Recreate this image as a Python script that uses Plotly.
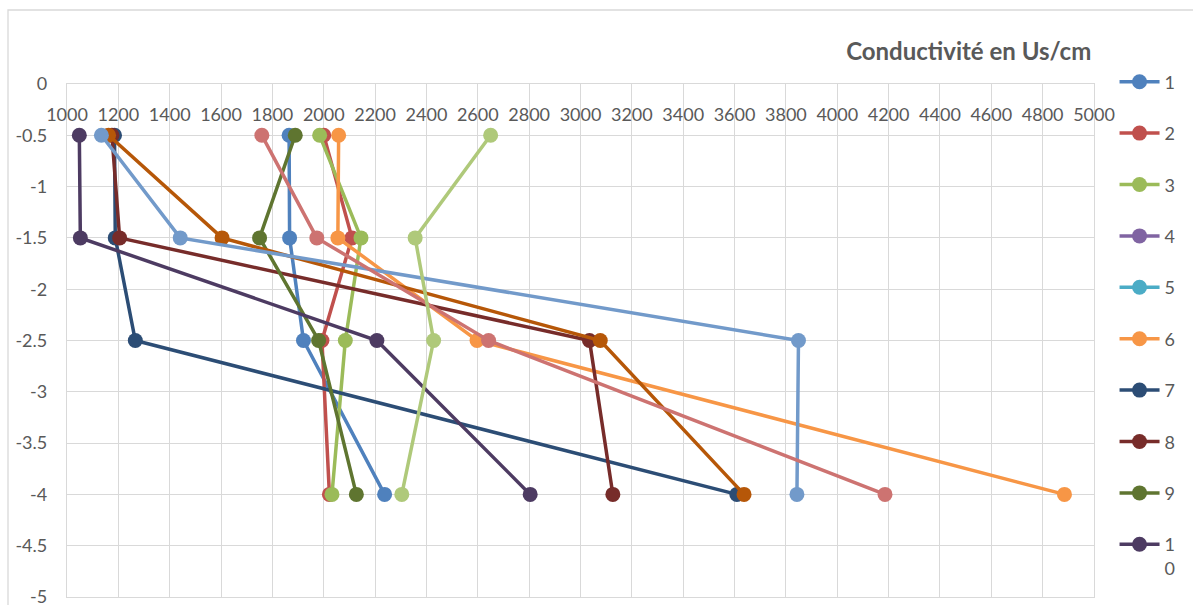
import plotly.graph_objects as go

# Depth of each sampling level (m)
depths = [-0.5, -1.5, -2.5, -4]

# Conductivity readings (µS/cm) per profile, top to bottom
series_names = ["1", "2", "3", "4", "5", "6", "7", "8", "9", "1<br>0",
                "11", "12", "13", "14", "15"]
s1 = [1865, 1867, 1921, 2237]
s2 = [2000, 2110, 1993, 2022]
s3 = [1984, 2145, 2084, 2032]
s4 = []
s5 = []
s6 = [2058, 2055, 2597, 4885]
s7 = [1185, 1188, 1266, 3609]
s8 = [1175, 1205, 3035, 3126]
s9 = [1889, 1750, 1980, 2127]
s10 = [1048, 1052, 2207, 2804]
s11 = []
s12 = [1162, 1604, 3077, 3637]
s13 = [1134, 1441, 3849, 3843]
s14 = [1759, 1973, 2642, 4186]
s15 = [2650, 2356, 2428, 2304]
all_series = [s1, s2, s3, s4, s5, s6, s7, s8, s9, s10, s11, s12, s13, s14, s15]

colors = ["#4F81BD", "#C0504D", "#9BBB59", "#8064A2", "#4BACC6", "#F79646",
          "#2C4D75", "#772C2A", "#5F7530", "#4D3B62", "#276A7C", "#B65708",
          "#729ACA", "#CD7371", "#AFC97A"]

y_tickvals = [0, -0.5, -1, -1.5, -2, -2.5, -3, -3.5, -4, -4.5, -5]
y_ticktext = ["0", "-0.5", "-1", "-1.5", "-2", "-2.5", "-3", "-3.5", "-4", "-4.5", "-5"]

FONT = "Lato"
GREY = "#595959"
GRID = "#D9D9D9"

fig = go.Figure()
for i, (name, vals) in enumerate(zip(series_names, all_series)):
    fig.add_trace(go.Scatter(
        x=vals if vals else [None],
        y=depths[:len(vals)] if vals else [None],
        mode="lines+markers",
        name=name,
        legendgroup=f"g{i}",
        showlegend=i < 10,
        line=dict(color=colors[i], width=3.5),
        marker=dict(color=colors[i], size=15),
    ))

fig.update_layout(
    width=1193, height=605,
    margin=dict(l=67, r=99, t=84, b=8, autoexpand=False),
    paper_bgcolor="white", plot_bgcolor="white",
    font=dict(family=FONT, size=18, color=GREY),
    title=dict(text="<b>Conductivité en Us/cm</b>", font=dict(family=FONT, size=24, color=GREY),
               x=0.878, xref="paper", xanchor="center", y=1 - 52 / 605, yanchor="middle"),
    legend=dict(x=1.02, xanchor="left", y=1.04, yanchor="top",
                tracegroupgap=25, valign="top", font=dict(size=18, color=GREY),
                itemwidth=40, bgcolor="rgba(0,0,0,0)", maxheight=600),
    showlegend=True,
)

fig.update_xaxes(
    range=[1000, 5000], dtick=200, side="top",
    ticklabelposition="inside", ticklabeloverflow="allow",
    ticks="", ticklabelstandoff=25, automargin=False,
    showgrid=True, gridcolor=GRID, gridwidth=1.3,
    showline=True, linecolor=GRID, linewidth=1.3, mirror=True,
    zeroline=False, tickfont=dict(size=18, color=GREY),
)
fig.update_yaxes(
    range=[-5, 0], tickvals=y_tickvals, ticktext=y_ticktext,
    ticks="", ticklabelstandoff=15, ticklabeloverflow="allow", automargin=False,
    showgrid=True, gridcolor=GRID, gridwidth=1.3,
    showline=True, linecolor=GRID, linewidth=1.3, mirror=True,
    zeroline=False, tickfont=dict(size=18, color=GREY),
)

# Outer chart frame
fig.add_shape(type="rect", xref="paper", yref="paper",
              x0=(8 - 67) / 1027, x1=1.2, y0=-0.1, y1=(597 - 10) / 513,
              line=dict(color=GRID, width=1.3), fillcolor="rgba(0,0,0,0)", layer="below")

fig.write_html("out.html")
